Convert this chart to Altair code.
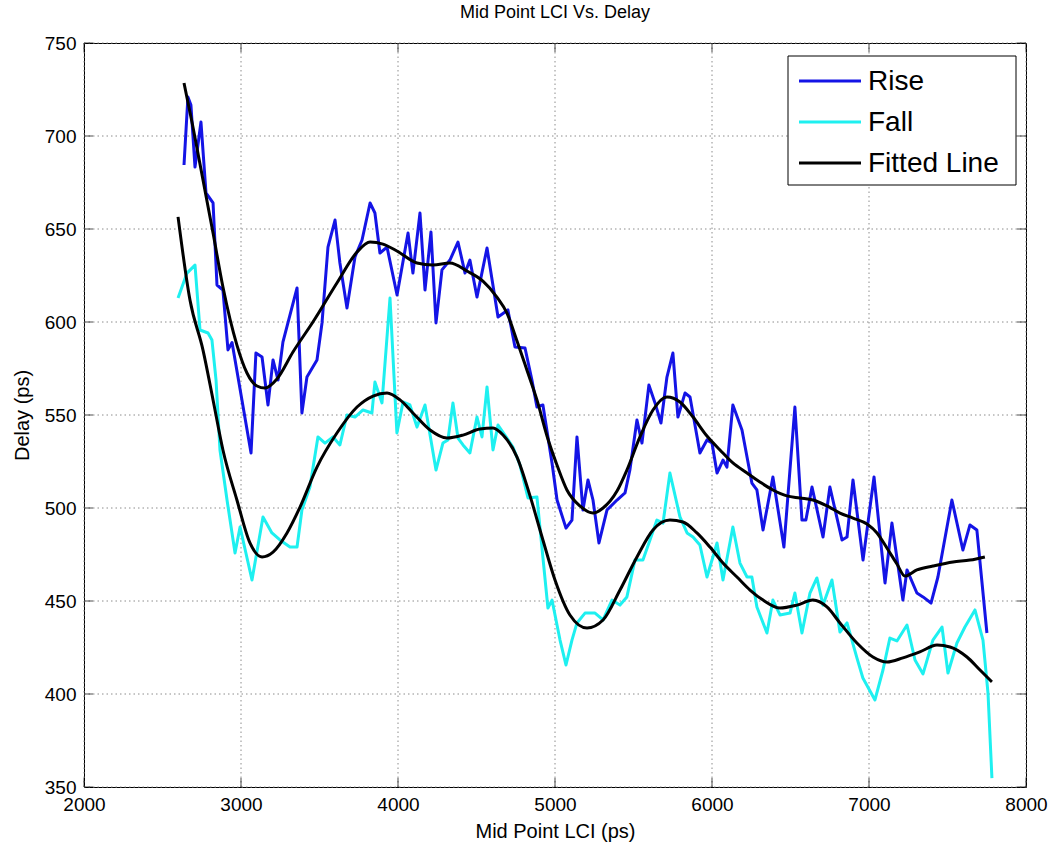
import altair as alt
import pandas as pd

# ---------------- data ----------------
rise_x = [2637, 2662, 2681, 2707, 2745, 2777, 2822, 2847, 2885, 2917, 2943, 3064,
          3095, 3134, 3172, 3204, 3236, 3267, 3357, 3388, 3420, 3484, 3516, 3554,
          3599, 3630, 3675, 3726, 3771, 3822, 3853, 3885, 3930, 3994, 4064, 4095,
          4140, 4172, 4210, 4242, 4280, 4331, 4382, 4427, 4458, 4503, 4567, 4637,
          4700, 4745, 4809, 4853, 4885, 4923, 4981, 5013, 5070, 5108, 5140, 5178,
          5210, 5242, 5280, 5331, 5395, 5446, 5477, 5522, 5554, 5598, 5637, 5675,
          5713, 5751, 5783, 5828, 5860, 5923, 5968, 6000, 6032, 6070, 6095, 6133,
          6191, 6254, 6286, 6325, 6388, 6458, 6528, 6573, 6598, 6637, 6707, 6751,
          6828, 6860, 6898, 6962, 7032, 7102, 7146, 7216, 7242, 7305, 7344, 7395,
          7439, 7528, 7598, 7643, 7687, 7751]
rise_y = [684.4, 721.0, 716.7, 683.3, 707.5, 669.4, 664.0, 619.9, 617.2, 585.0, 589.0, 529.6,
          583.3, 581.2, 555.4, 579.6, 568.8, 589.2, 618.3, 551.1, 570.4, 579.6, 599.5, 640.3,
          654.8, 631.7, 607.5, 635.0, 644.1, 664.0, 658.6, 637.1, 640.3, 614.5, 647.8, 626.3,
          658.6, 617.2, 648.4, 599.5, 628.0, 633.3, 643.0, 626.3, 633.3, 613.4, 639.8, 602.7,
          606.5, 586.6, 586.0, 568.8, 554.3, 555.4, 524.2, 504.3, 489.2, 493.5, 538.2, 498.9,
          515.1, 504.3, 481.2, 498.9, 504.3, 508.1, 520.4, 547.3, 534.9, 566.1, 556.5, 545.7,
          570.4, 583.3, 548.9, 561.8, 559.7, 529.6, 536.6, 534.9, 518.8, 525.8, 522.0, 555.4,
          541.9, 513.4, 509.7, 488.2, 516.7, 479.0, 554.3, 493.5, 493.5, 511.3, 484.4, 511.3,
          482.8, 484.4, 515.1, 472.0, 516.7, 459.7, 491.9, 450.5, 466.7, 454.3, 452.2, 448.9,
          462.9, 504.3, 477.4, 490.9, 488.2, 432.8]

fall_x = [2599, 2656, 2707, 2739, 2790, 2815, 2841, 2866, 2911, 2962, 2994, 3070,
          3140, 3197, 3248, 3312, 3357, 3388, 3439, 3490, 3535, 3586, 3630, 3675,
          3726, 3777, 3834, 3853, 3898, 3949, 3993, 4032, 4076, 4121, 4172, 4242,
          4286, 4318, 4350, 4382, 4414, 4458, 4503, 4535, 4567, 4605, 4637, 4694,
          4732, 4777, 4828, 4885, 4955, 4981, 5032, 5070, 5108, 5140, 5191, 5255,
          5306, 5363, 5414, 5458, 5509, 5560, 5605, 5649, 5688, 5732, 5796, 5841,
          5879, 5923, 5968, 6032, 6070, 6133, 6178, 6223, 6254, 6286, 6350, 6388,
          6433, 6497, 6528, 6573, 6624, 6668, 6707, 6764, 6815, 6860, 6923, 6961,
          7038, 7089, 7133, 7178, 7242, 7293, 7344, 7407, 7465, 7503, 7560, 7611,
          7675, 7726, 7758, 7783]
fall_y = [612.9, 626.3, 630.6, 595.7, 594.1, 590.3, 568.8, 531.2, 504.3, 475.8, 489.8, 461.3,
          495.2, 486.6, 482.8, 479.0, 479.0, 498.9, 511.3, 538.2, 534.9, 538.2, 533.9, 550.0,
          548.9, 552.7, 551.1, 567.7, 556.5, 612.9, 540.3, 557.0, 555.4, 543.5, 555.4, 520.4,
          534.9, 536.6, 556.5, 537.6, 533.9, 529.6, 548.9, 538.2, 565.1, 531.2, 544.6, 537.6,
          532.8, 523.1, 505.4, 505.9, 446.2, 450.5, 429.0, 415.6, 429.0, 438.2, 443.5, 443.5,
          439.8, 450.5, 447.8, 452.2, 472.0, 472.0, 482.8, 493.5, 491.9, 518.8, 495.2, 486.6,
          484.4, 480.1, 462.9, 481.2, 461.3, 489.8, 470.4, 462.9, 462.9, 446.8, 432.8, 450.5,
          442.5, 443.5, 454.3, 432.8, 454.3, 462.4, 447.8, 461.3, 433.3, 438.2, 419.4, 408.6,
          396.8, 412.9, 430.1, 428.5, 437.1, 418.3, 410.8, 429.0, 436.0, 411.3, 427.4, 436.0,
          445.2, 429.0, 400.5, 354.8]

fit_rise_x = [2637, 2694, 2758, 2822, 2885, 2974, 3038, 3102, 3153, 3229, 3331, 3458,
              3611, 3739, 3822, 3904, 3993, 4121, 4223, 4331, 4439, 4541, 4630, 4694,
              4758, 4821, 4885, 4949, 5013, 5076, 5159, 5242, 5306, 5395, 5458, 5541,
              5624, 5713, 5796, 5879, 5968, 6051, 6133, 6223, 6305, 6388, 6477, 6560,
              6643, 6732, 6815, 6898, 6987, 7051, 7114, 7178, 7229, 7305, 7407, 7535,
              7643, 7738]
fit_rise_y = [728.5, 704.8, 676.3, 647.8, 618.8, 587.6, 572.6, 565.6, 564.5, 569.4, 583.9, 600.0,
              621.0, 637.6, 643.0, 641.9, 638.2, 631.7, 630.6, 631.7, 627.4, 622.0, 613.4, 604.8,
              589.8, 574.2, 558.1, 538.7, 523.0, 509.7, 501.1, 497.3, 500.0, 509.1, 520.4, 538.2,
              552.7, 559.7, 557.0, 548.9, 538.7, 531.2, 524.2, 518.8, 514.0, 509.7, 506.5, 505.4,
              504.3, 501.1, 497.3, 494.6, 491.4, 486.6, 478.5, 469.9, 463.4, 466.7, 468.8, 471.0,
              472.0, 473.7]

fit_fall_x = [2599, 2675, 2758, 2822, 2885, 2974, 3057, 3134, 3204, 3293, 3376, 3484,
              3611, 3739, 3841, 3930, 4013, 4095, 4204, 4312, 4414, 4522, 4605, 4669,
              4758, 4841, 4923, 5000, 5095, 5204, 5306, 5414, 5522, 5624, 5732, 5815,
              5904, 5987, 6070, 6159, 6242, 6325, 6433, 6541, 6643, 6732, 6815, 6923,
              7025, 7114, 7216, 7324, 7433, 7516, 7624, 7707, 7783]
fit_fall_y = [656.5, 611.8, 584.9, 558.1, 531.2, 504.3, 481.2, 473.7, 476.3, 486.6, 500.5, 522.0,
              540.3, 554.3, 560.2, 561.8, 558.1, 551.1, 541.9, 537.6, 539.2, 542.5, 543.0, 539.2,
              527.4, 506.5, 482.8, 461.3, 442.5, 435.5, 439.8, 455.9, 473.7, 488.2, 493.5, 492.5,
              486.6, 479.0, 470.4, 462.9, 455.9, 450.5, 446.2, 447.8, 450.5, 446.8, 438.2, 427.4,
              419.9, 417.2, 419.4, 422.6, 426.3, 425.3, 419.9, 412.9, 406.5]

x_ticks = [2000, 3000, 4000, 5000, 6000, 7000, 8000]
y_ticks = [350, 400, 450, 500, 550, 600, 650, 700, 750]
legend_labels = ["Rise", "Fall", "Fitted Line"]
legend_colors = ["#1414e6", "#1ef0f0", "#000000"]

# ---------------- chart ----------------
W, H = 942, 744
FONT = "Liberation Sans"

xs = alt.Scale(domain=[2000, 8000], nice=False, zero=False)
ys = alt.Scale(domain=[350, 750], nice=False, zero=False)

x_axis = alt.Axis(values=x_ticks, format="d", grid=False, ticks=False, domain=False,
                  labelFont=FONT, labelFontSize=19, labelColor="black", labelPadding=8,
                  labelFlush=False, labelOverlap=False,
                  title="Mid Point LCI (ps)", titleFont=FONT, titleFontSize=20,
                  titleFontWeight="normal", titleColor="black", titlePadding=7)
y_axis = alt.Axis(values=y_ticks, format="d", grid=False, ticks=False, domain=False,
                  labelFont=FONT, labelFontSize=19, labelColor="black", labelPadding=8,
                  labelFlush=False, labelOverlap=False,
                  title="Delay (ps)", titleFont=FONT, titleFontSize=20,
                  titleFontWeight="normal", titleColor="black", titlePadding=12)


def X(field):
    return alt.X(field, scale=xs, axis=x_axis)


def Y(field):
    return alt.Y(field, scale=ys, axis=y_axis)


one = pd.DataFrame({"a": [0]})
xt = pd.DataFrame({"v": x_ticks})
yt = pd.DataFrame({"v": y_ticks})

grid_x = alt.Chart(xt).mark_rule(color="#8c8c8c", strokeDash=[1.5, 3], strokeWidth=1).encode(
    x=X("v:Q"))
grid_y = alt.Chart(yt).mark_rule(color="#8c8c8c", strokeDash=[1.5, 3], strokeWidth=1).encode(
    y=Y("v:Q"))

tick_len = 9
ticks_bottom = alt.Chart(xt).mark_tick(orient="vertical", size=tick_len, thickness=1,
                                       color="black", yOffset=-tick_len / 2).encode(
    x=X("v:Q"), y=alt.value(H))
ticks_top = alt.Chart(xt).mark_tick(orient="vertical", size=tick_len, thickness=1,
                                    color="black", yOffset=tick_len / 2).encode(
    x=X("v:Q"), y=alt.value(0))
ticks_left = alt.Chart(yt).mark_tick(orient="horizontal", size=tick_len, thickness=1,
                                     color="black", xOffset=tick_len / 2).encode(
    y=Y("v:Q"), x=alt.value(0))
ticks_right = alt.Chart(yt).mark_tick(orient="horizontal", size=tick_len, thickness=1,
                                      color="black", xOffset=-tick_len / 2).encode(
    y=Y("v:Q"), x=alt.value(W))


def series_line(xv, yv, color, interp="linear"):
    df = pd.DataFrame({"v": xv, "w": yv})
    return alt.Chart(df).mark_line(color=color, strokeWidth=3, interpolate=interp,
                                   strokeJoin="round").encode(
        x=X("v:Q"), y=Y("w:Q"), order=alt.Order("v:Q"))


rise = series_line(rise_x, rise_y, legend_colors[0])
fall = series_line(fall_x, fall_y, legend_colors[1])
fit_r = series_line(fit_rise_x, fit_rise_y, legend_colors[2], "monotone")
fit_f = series_line(fit_fall_x, fit_fall_y, legend_colors[2], "monotone")

# legend (drawn in pixel space of the plot area)
leg_box = alt.Chart(one).mark_rect(fill="white", stroke="black", strokeWidth=1).encode(
    x=alt.value(704), x2=alt.value(932), y=alt.value(13), y2=alt.value(142))
legend_layers = [leg_box]
for i, (lab, col) in enumerate(zip(legend_labels, legend_colors)):
    yy = 38 + 41 * i
    legend_layers.append(
        alt.Chart(one).mark_rule(color=col, strokeWidth=3).encode(
            x=alt.value(715), x2=alt.value(777), y=alt.value(yy)))
    legend_layers.append(
        alt.Chart(one).mark_text(align="left", baseline="middle", font=FONT, fontSize=28,
                                 color="black").encode(
            x=alt.value(784), y=alt.value(yy + 1), text=alt.value(lab)))

chart = alt.layer(
    grid_x, grid_y, rise, fall, fit_r, fit_f,
    ticks_bottom, ticks_top, ticks_left, ticks_right,
    *legend_layers
).properties(
    width=W, height=H,
    title=alt.TitleParams("Mid Point LCI Vs. Delay", font=FONT, fontSize=18,
                          fontWeight="normal", color="black", offset=12, anchor="middle"),
    autosize=alt.AutoSizeParams(type="none"),
    padding={"left": 84, "top": 43, "right": 27, "bottom": 59},
    background="white",
).configure_view(stroke="black", strokeWidth=1)

chart.save("out.html", embed_options={"renderer": "svg", "actions": False})
